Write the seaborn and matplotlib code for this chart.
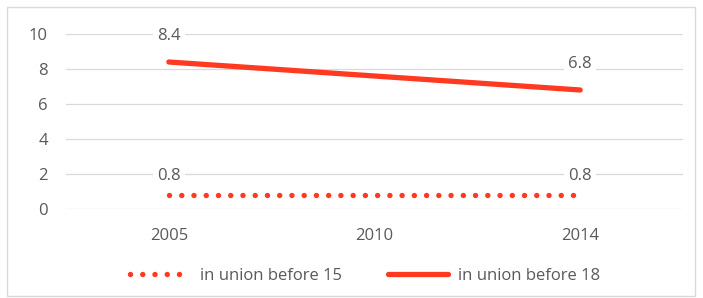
import pandas as pd
import matplotlib.pyplot as plt
import seaborn as sns
from matplotlib.patches import Rectangle

years = ["2005", "2010", "2014"]
before_15 = [0.8, 0.8, 0.8]
before_18 = [8.4, 7.6, 6.8]
label_15 = "in union before 15"
label_18 = "in union before 18"
y_ticks = [0, 2, 4, 6, 8, 10]

RED = "#FF3A21"
GREY = "#595959"
FS = 12

sns.set_theme(style="white")
plt.rcParams["font.family"] = ["Open Sans", "DejaVu Sans"]

df = pd.DataFrame({"year": years, "b15": before_15, "b18": before_18})

fig = plt.figure(figsize=(7.03, 2.98), dpi=100)
ax = fig.add_axes([66 / 703, 1 - 209 / 298, (683 - 66) / 703, 175 / 298])

sns.lineplot(data=df, x="year", y="b15", ax=ax, color=RED, lw=3.9,
             linestyle=(0, (0.01, 2.25)), dash_capstyle="round",
             label=label_15)
sns.lineplot(data=df, x="year", y="b18", ax=ax, color=RED, lw=3.8,
             solid_capstyle="round", label=label_18)

ax.set_xlim(-0.5, 2.5)
ax.set_ylim(0, 10)
ax.set_yticks(y_ticks)
ax.yaxis.grid(True, color="#d9d9d9", lw=0.9)
ax.set_axisbelow(True)
for s in ax.spines.values():
    s.set_visible(False)
ax.tick_params(axis="both", length=0, labelsize=FS, labelcolor=GREY)
ax.tick_params(axis="x", pad=14)
ax.tick_params(axis="y", pad=13)
ax.set_xlabel("")
ax.set_ylabel("")

# data labels at first and last points
box = dict(boxstyle="square,pad=0.25", fc="white", ec="none")
for i in (0, len(years) - 1):
    ax.annotate(f"{before_18[i]:.1f}", (i, before_18[i]), xytext=(0, 19),
                textcoords="offset points", ha="center", va="center",
                fontsize=FS, color=GREY, bbox=box)
    ax.annotate(f"{before_15[i]:.1f}", (i, before_15[i]), xytext=(0, 14),
                textcoords="offset points", ha="center", va="center",
                fontsize=FS, color=GREY, bbox=box)

ax.legend(loc="center", bbox_to_anchor=(365 / 703, 22 / 298),
          bbox_transform=fig.transFigure, ncol=2, frameon=False,
          fontsize=FS, labelcolor=GREY, handlelength=3.6, columnspacing=2.8,
          handletextpad=0.6)

fig.patches.append(Rectangle((7 / 703, 2 / 298), 688 / 703, 289 / 298,
                             transform=fig.transFigure, fill=False,
                             ec="#d9d9d9", lw=1))

fig.savefig("out.png", dpi=100)
